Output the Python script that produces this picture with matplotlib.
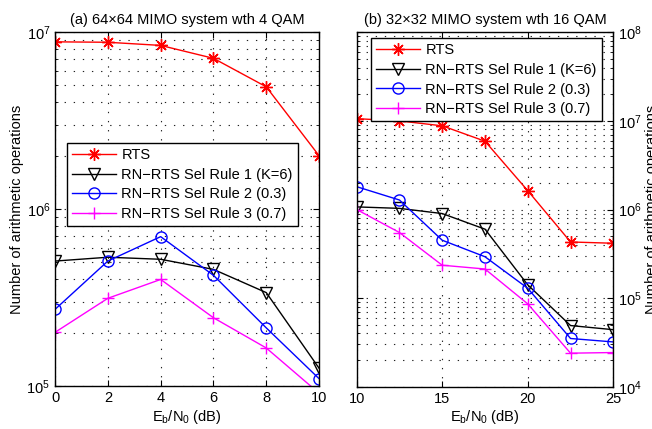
import numpy as np
import matplotlib.pyplot as plt
from matplotlib.ticker import LogLocator, NullFormatter

plt.rcParams['font.family'] = ['Liberation Sans', 'DejaVu Sans']
plt.rcParams['font.size'] = 10.5
plt.rcParams['mathtext.fontset'] = 'custom'
plt.rcParams['mathtext.rm'] = 'Liberation Sans'
plt.rcParams['mathtext.it'] = 'Liberation Sans'

# (a) 64x64, 4 QAM
snr_a = [0, 2, 4, 6, 8, 10]
rts_a = [8.8e6, 8.75e6, 8.4e6, 7.1e6, 4.9e6, 2.0e6]
rule1_a = [5.08e5, 5.34e5, 5.2e5, 4.56e5, 3.37e5, 1.26e5]
rule2_a = [2.71e5, 5.08e5, 6.98e5, 4.22e5, 2.13e5, 1.10e5]
rule3_a = [2.01e5, 3.13e5, 4.0e5, 2.43e5, 1.64e5, 9.1e4]

# (b) 32x32, 16 QAM
snr_b = [10, 12.5, 15, 17.5, 20, 22.5, 25]
rts_b = [1.06e7, 1.0e7, 8.8e6, 5.9e6, 1.63e6, 4.3e5, 4.16e5]
rule1_b = [1.07e6, 1.03e6, 9.0e5, 6.0e5, 1.41e5, 4.9e4, 4.4e4]
rule2_b = [1.81e6, 1.28e6, 4.5e5, 2.93e5, 1.29e5, 3.5e4, 3.2e4]
rule3_b = [1.0e6, 5.5e5, 2.35e5, 2.13e5, 8.6e4, 2.39e4, 2.43e4]

labels = ['RTS', 'RN\u2212RTS Sel Rule 1 (K=6)',
          'RN\u2212RTS Sel Rule 2 (0.3)', 'RN\u2212RTS Sel Rule 3 (0.7)']
# matlab-like markers: '*' is an 8 arm asterisk
styles = [dict(color='red', marker=(8, 2, 0), ms=9, mew=1),
          dict(color='black', marker='v', ms=8, mfc='none'),
          dict(color='blue', marker='o', ms=8, mfc='none'),
          dict(color='magenta', marker='+', ms=9)]

fig = plt.figure(figsize=(6.52, 4.29), dpi=100)
ax1 = fig.add_axes([0.0844, 0.1002, 0.405, 0.8252])
ax2 = fig.add_axes([0.547, 0.0986, 0.3937, 0.8261])

grid_kw = dict(linestyle=(0, (1.2, 7)), color='#222222', linewidth=0.8)
leg_kw = dict(loc='upper left', handlelength=3.0, fancybox=False,
              edgecolor='black', framealpha=1, borderpad=0.35,
              borderaxespad=0, labelspacing=0.38, handletextpad=0.4,
              fontsize=10.5)


def setup(ax, xlim, ylim, xticks):
    ax.set_yscale('log')
    ax.set_xlim(*xlim)
    ax.set_ylim(*ylim)
    ax.set_xticks(xticks)
    ax.yaxis.set_major_locator(LogLocator(base=10, numticks=10))
    ax.yaxis.set_minor_locator(LogLocator(base=10, subs=np.arange(2, 10), numticks=20))
    ax.yaxis.set_minor_formatter(NullFormatter())
    ax.grid(True, which='major', **grid_kw)
    ax.grid(True, which='minor', axis='y', **grid_kw)
    ax.tick_params(which='both', direction='in', top=True, right=True, left=True)
    ax.tick_params(which='major', length=4)
    ax.tick_params(which='minor', length=2)
    ax.set_xlabel('E$_\\mathregular{b}$/N$_\\mathregular{0}$ (dB)', labelpad=2)
    for s in ax.spines.values():
        s.set_linewidth(1.0)


# left panel
for y, lab, st in zip([rts_a, rule1_a, rule2_a, rule3_a], labels, styles):
    ax1.plot(snr_a, y, label=lab, lw=1, **st)
setup(ax1, (0, 10), (1e5, 1e7), [0, 2, 4, 6, 8, 10])
ax1.set_ylabel('Number of arithmetic operations', labelpad=2)
ax1.set_title('(a) 64\u00d764 MIMO system wth 4 QAM', fontsize=10.5, pad=6)
ax1.legend(bbox_to_anchor=(0.044, 0.686), **leg_kw)

# right panel
for y, lab, st in zip([rts_b, rule1_b, rule2_b, rule3_b], labels, styles):
    ax2.plot(snr_b, y, label=lab, lw=1, **st)
setup(ax2, (10, 25), (1e4, 1e8), [10, 15, 20, 25])
ax2.yaxis.tick_right()
ax2.tick_params(which='both', left=True, right=True)
ax2.yaxis.set_label_position('right')
ax2.set_ylabel('Number of arithmetic operations', labelpad=2)
ax2.set_title('(b) 32\u00d732 MIMO system wth 16 QAM', fontsize=10.5, pad=6)
ax2.legend(bbox_to_anchor=(0.055, 0.983), **leg_kw)

fig.savefig('out.png', dpi=100)
